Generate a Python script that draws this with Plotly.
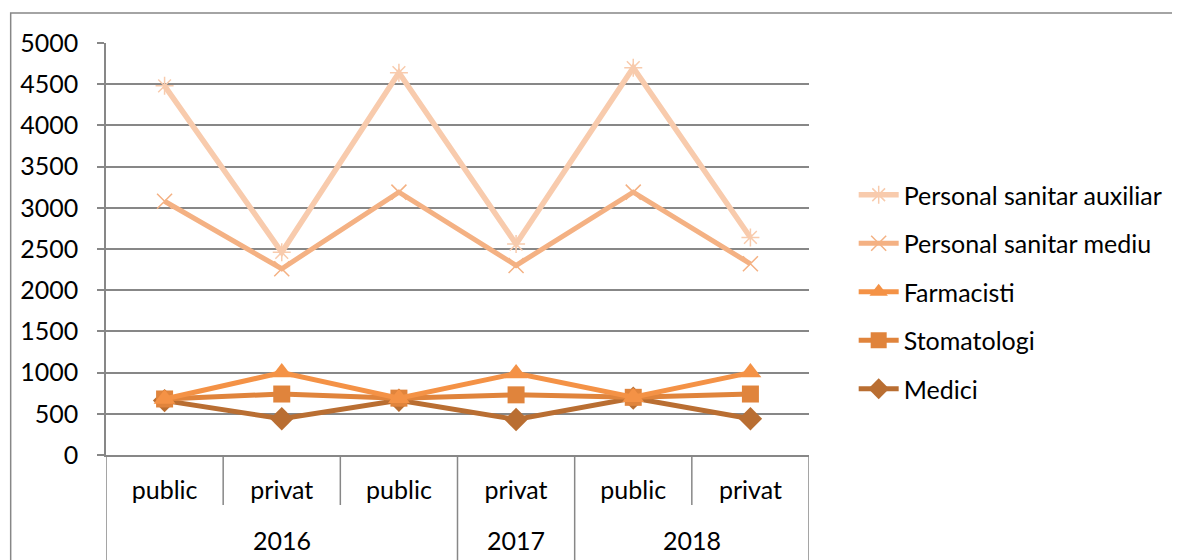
import plotly.graph_objects as go

categories = ["public", "privat", "public", "privat", "public", "privat"]
years = ["2016", "2017", "2018"]
year_spans = [(0, 2), (3, 3), (4, 5)]  # first and last category index of each year

aux = [4480, 2460, 4640, 2560, 4700, 2640]
mediu = [3080, 2260, 3190, 2300, 3190, 2320]
farmacisti = [680, 1000, 690, 990, 700, 1000]
stomatologi = [680, 740, 690, 730, 700, 740]
medici = [660, 440, 665, 430, 690, 440]

yticks = list(range(0, 5001, 500))

FONT = "Lato"
FS = 25
GRID = "#878787"

# page body has an 8px margin: figure is drawn at (8, 8)
W, H = 1172, 552
L, T = 96, 35
PLOT_W, PLOT_H = 708, 412
R = W - L - PLOT_W
B = H - T - PLOT_H

def py(px):  # reference pixel y -> paper y
    return (455 - px) / PLOT_H

def pxx(px):  # reference pixel x -> paper x
    return (px - 104) / PLOT_W

x = list(range(len(categories)))

fig = go.Figure()

series = [
    ("Medici", medici, "#B96E32", dict(symbol="diamond", size=18), 5),
    ("Stomatologi", stomatologi, "#E0843C", dict(symbol="square", size=17), 4),
    ("Farmacisti", farmacisti, "#F49246", dict(symbol="triangle-up", size=19), 3),
    ("Personal sanitar mediu", mediu, "#F4B183", dict(symbol="x-thin-open", size=15, line=dict(width=1.5, color="#F4B183")), 2),
    ("Personal sanitar auxiliar", aux, "#F8CBAD", dict(symbol="asterisk-open", size=15, line=dict(width=1.5, color="#F8CBAD")), 1),
]
for name, vals, col, mk, rank in series:
    m = dict(color=col)
    m.update(mk)
    fig.add_trace(go.Scatter(
        x=x, y=vals, name=name, mode="lines+markers",
        line=dict(color=col, width=5.5 if rank == 1 else 5), marker=m,
        legendgroup=name, legendrank=rank,
    ))

shapes = []
for b in [0.5, 1.5, 4.5]:
    shapes.append(dict(type="line", xref="x", yref="paper", x0=b, x1=b, y0=0, y1=py(505),
                       line=dict(color=GRID, width=1.5)))
for b in [-0.5, 2.5, 3.5, 5.5]:
    shapes.append(dict(type="line", xref="x", yref="paper", x0=b, x1=b, y0=0, y1=py(600),
                       line=dict(color=GRID, width=1.5)))
shapes.append(dict(type="rect", xref="paper", yref="paper", x0=pxx(8), x1=pxx(1200), y0=py(600), y1=py(13),
                   line=dict(color=GRID, width=1.5), layer="below"))

annotations = []
for yr, (a, b) in zip(years, year_spans):
    annotations.append(dict(x=(a + b) / 2, y=py(540), xref="x", yref="paper", text=yr,
                            showarrow=False, font=dict(family=FONT, size=FS, color="#000"),
                            xanchor="center", yanchor="middle"))

fig.update_layout(
    width=W, height=H,
    margin=dict(l=L, r=R, t=T, b=B),
    paper_bgcolor="white", plot_bgcolor="white",
    font=dict(family=FONT, size=FS, color="#000"),
    showlegend=True,
    legend=dict(x=pxx(857), y=py(172), xanchor="left", yanchor="top",
                traceorder="grouped", tracegroupgap=13,
                font=dict(family=FONT, size=FS, color="#000"),
                itemwidth=40),
    shapes=shapes,
    annotations=annotations,
    xaxis=dict(range=[-0.5, 5.5], tickvals=x, ticktext=categories, showgrid=False,
               showline=True, linecolor=GRID, linewidth=1.5, ticks="", zeroline=False,
               ticklabelstandoff=12, tickfont=dict(family=FONT, size=FS, color="#000")),
    yaxis=dict(range=[0, 5000], tickvals=yticks, showgrid=True, gridcolor=GRID, gridwidth=1.5,
               showline=True, linecolor=GRID, linewidth=1.5, ticks="outside", ticklen=7,
               tickcolor=GRID, tickwidth=1.5, zeroline=False, ticklabelstandoff=14,
               tickfont=dict(family=FONT, size=FS, color="#000")),
)

fig.write_html("out.html")
